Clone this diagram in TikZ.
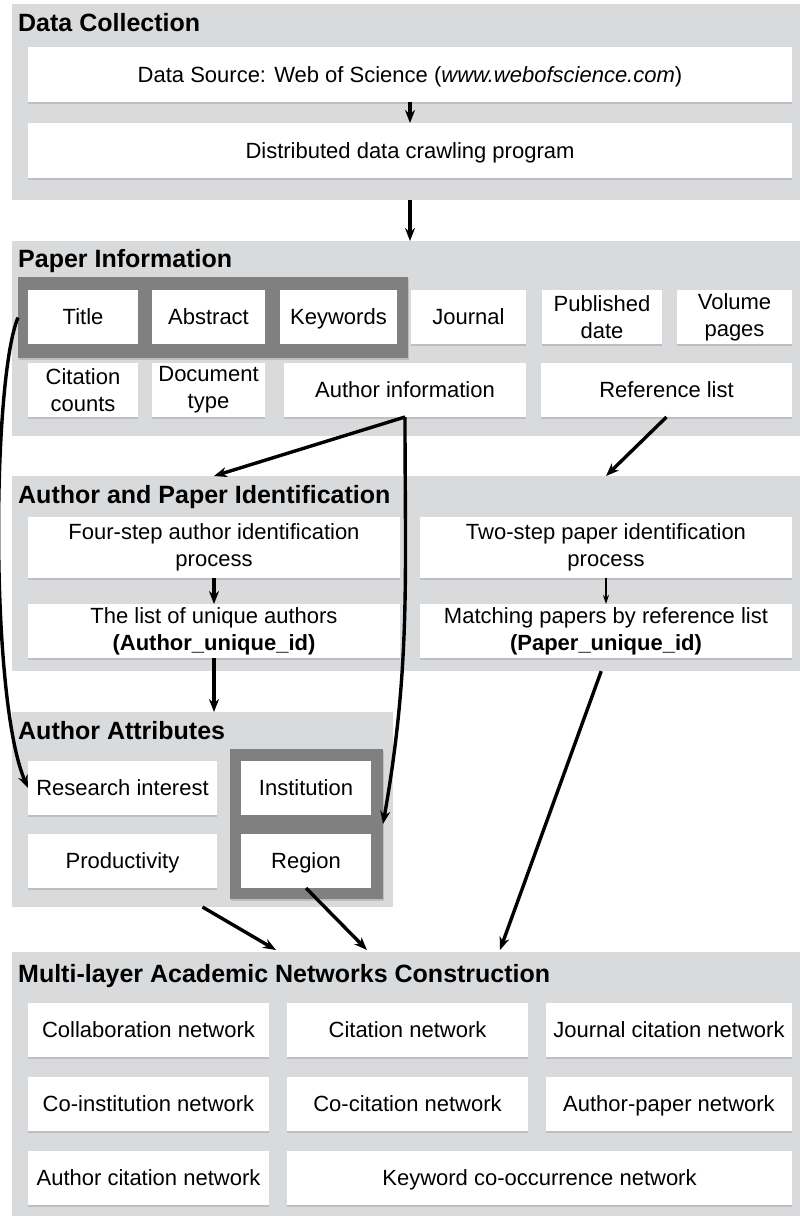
\documentclass[tikz,border=0pt]{standalone}
\usepackage{fontspec}
\setmainfont{Liberation Sans}
\usetikzlibrary{arrows.meta,shadows}

\definecolor{panelgrey}{RGB}{217,218,220}
\definecolor{groupgrey}{RGB}{128,128,128}

\tikzset{
  panel/.style={fill=panelgrey, anchor=north west, inner sep=0pt, outer sep=0pt},
  grp/.style={fill=groupgrey, anchor=north west, inner sep=0pt, outer sep=0pt,
    drop shadow={shadow xshift=1pt, shadow yshift=-1.5pt, opacity=0.3}},
  wbox/.style={fill=white, anchor=north west, inner sep=1pt, outer sep=0pt, align=center,
    font=\fontsize{22}{27}\selectfont,
    drop shadow={shadow xshift=0pt, shadow yshift=-1.5pt, opacity=0.3}},
  oneline/.style={text height=17.5pt, text depth=2.5pt},
  ptitle/.style={anchor=base west, inner sep=0pt, font=\fontsize{25}{29}\selectfont\bfseries},
  arr/.style={-{Stealth[length=13pt,width=10pt]}, line width=3.4pt},
  thinarr/.style={-{Stealth[length=9pt,width=6pt]}, line width=1.6pt},
}

\begin{document}
\begin{tikzpicture}[x=1pt,y=-1pt]
    \useasboundingbox (0,0) rectangle (800,1216);

    % panels
    \node[panel, minimum width=788, minimum height=196](dc) at (12,4) {};
    \node[panel, minimum width=788, minimum height=195](pi) at (12,241) {};
    \node[panel, minimum width=788, minimum height=195](api) at (12,476) {};
    \node[panel, minimum width=381, minimum height=195](aa) at (12,712) {};
    \node[panel, minimum width=788, minimum height=264](mn) at (12,952) {};

    \node[ptitle](dcT) at (18,31) {Data Collection};
    \node[ptitle](piT) at (18,267) {Paper Information};
    \node[ptitle](apiT) at (18,503) {Author and Paper Identification};
    \node[ptitle](aaT) at (18,739) {Author Attributes};
    \node[ptitle](mnT) at (18,982) {Multi-layer Academic Networks Construction};

    % groups
    \node[grp, minimum width=390, minimum height=81](grpA) at (18,277) {};
    \node[grp, minimum width=153, minimum height=150](grpB) at (230,749) {};

    % data collection
    \node[wbox, oneline, minimum width=764, minimum height=55](src) at (28,47) {Data Source: Web of Science (\textit{www.webofscience.com})};
    \node[wbox, oneline, minimum width=764, minimum height=55](crawl) at (28,123) {Distributed data crawling program};

    % paper information
    \node[wbox, oneline, minimum width=110, minimum height=54](title) at (28,290) {Title};
    \node[wbox, oneline, minimum width=113, minimum height=54](abstr) at (152,290) {Abstract};
    \node[wbox, oneline, minimum width=117, minimum height=54](keyw) at (280,290) {Keywords};
    \node[wbox, oneline, minimum width=115, minimum height=54](journal) at (411,290) {Journal};
    \node[wbox, minimum width=120, minimum height=54](pubdate) at (542,290) {Published\\date};
    \node[wbox, minimum width=115, minimum height=54](volume) at (677,290) {Volume\\pages};
    \node[wbox, minimum width=110, minimum height=54](counts) at (28,363) {Citation\\counts};
    \node[wbox, minimum width=113, minimum height=54](doctype) at (152,363) {Document\\type};
    \node[wbox, oneline, minimum width=242, minimum height=54](ainfo) at (284,363) {Author information};
    \node[wbox, oneline, minimum width=251, minimum height=54](reflist) at (541,363) {Reference list};

    % author and paper identification
    \node[wbox, minimum width=372, minimum height=61](fourstep) at (28,517) {Four-step author identification\\process};
    \node[wbox, minimum width=372, minimum height=61](twostep) at (420,517) {Two-step paper identification\\process};
    \node[wbox, minimum width=372, minimum height=54](uniq) at (28,604) {The list of unique authors\\\textbf{(Author\_unique\_id)}};
    \node[wbox, minimum width=372, minimum height=54](match) at (420,604) {Matching papers by reference list\\\textbf{(Paper\_unique\_id)}};

    % author attributes
    \node[wbox, oneline, minimum width=189, minimum height=54](research) at (28,761) {Research interest};
    \node[wbox, oneline, minimum width=189, minimum height=54](product) at (28,834) {Productivity};
    \node[wbox, oneline, minimum width=130, minimum height=54](inst) at (241,761) {Institution};
    \node[wbox, oneline, minimum width=130, minimum height=54](region) at (241,834) {Region};

    % networks
    \node[wbox, oneline, minimum width=241, minimum height=54](collab) at (28,1003) {Collaboration network};
    \node[wbox, oneline, minimum width=241, minimum height=54](citnet) at (287,1003) {Citation network};
    \node[wbox, oneline, minimum width=246, minimum height=54](jcit) at (546,1003) {Journal citation network};
    \node[wbox, oneline, minimum width=241, minimum height=54](coinst) at (28,1077) {Co-institution network};
    \node[wbox, oneline, minimum width=241, minimum height=54](cocit) at (287,1077) {Co-citation network};
    \node[wbox, oneline, minimum width=246, minimum height=54](autpap) at (546,1077) {Author-paper network};
    \node[wbox, oneline, minimum width=241, minimum height=54](autcit) at (28,1151) {Author citation network};
    \node[wbox, oneline, minimum width=505, minimum height=54](keyco) at (287,1151) {Keyword co-occurrence network};

    \coordinate(inA) at (276,950);
    \coordinate(inB) at (367,950);
    \coordinate(inC) at (500,950);

    \draw[arr](src)--(crawl);
    \draw[arr](dc.south -| crawl)--(pi.north -| crawl);
    \draw[arr](ainfo.south)--(api.north -| fourstep);
    \draw[arr](ainfo.south)to[out=-90,in=80](grpB.east);
    \draw[arr](reflist.south)--(api.north -| twostep);
    \draw[arr](fourstep)--(uniq);
    \draw[thinarr](twostep)--(match);
    \draw[arr](uniq)--(aa.north -| uniq);
    \draw[arr](grpA.west) .. controls (-8,380) and (-10,700) .. (research.west);
    \draw[arr](aa.south)--(inA);
    \draw[arr](region.south)--(inB);
    \draw[arr, shorten <=14pt](match.south)--(inC);
\end{tikzpicture}
\end{document}
